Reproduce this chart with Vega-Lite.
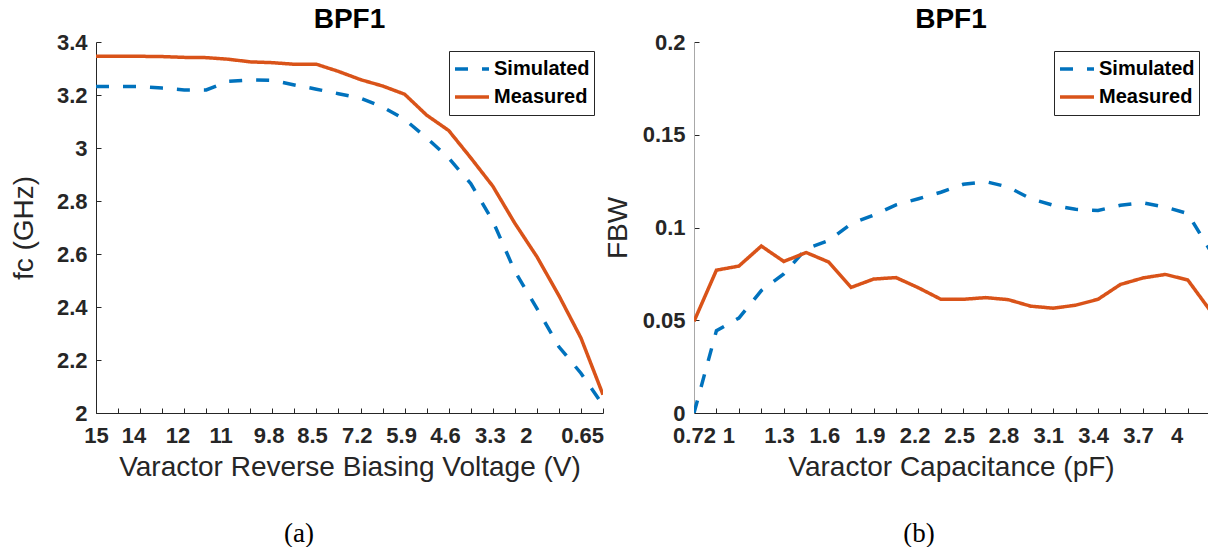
{
  "$schema": "https://vega.github.io/schema/vega-lite/v6.json",
  "background": "white",
  "padding": {"left": 10, "top": 6, "right": 0, "bottom": 0},
  "config": {
    "view": {"stroke": null},
    "font": "Liberation Sans",
    "axis": {
      "grid": false,
      "domainColor": "#262626",
      "domainWidth": 1,
      "tickColor": "#262626",
      "tickWidth": 1,
      "tickSize": -5,
      "labelColor": "#262626",
      "labelFont": "Liberation Sans",
      "labelFontSize": 22,
      "labelFontWeight": "bold",
      "labelFlush": false,
      "labelOverlap": false,
      "titleColor": "#262626",
      "titleFont": "Liberation Sans",
      "titleFontSize": 28,
      "titleFontWeight": "normal"
    },
    "legend": {
      "orient": "top-right",
      "offset": 9,
      "strokeColor": "#262626",
      "fillColor": "white",
      "padding": 4,
      "symbolType": "stroke",
      "symbolSize": 1156,
      "symbolStrokeWidth": 3.5,
      "clipHeight": 28,
      "rowPadding": 0,
      "labelFont": "Liberation Sans",
      "labelFontSize": 20,
      "labelFontWeight": "bold",
      "labelColor": "black",
      "labelOffset": 3
    },
    "title": {"font": "Liberation Sans", "fontSize": 28, "fontWeight": "bold", "color": "black", "offset": -3}
  },
  "datasets": {
    "fc": [
      {"i": 0, "series": "Simulated", "v": 3.232}, {"i": 1, "series": "Simulated", "v": 3.232}, {"i": 2, "series": "Simulated", "v": 3.232}, {"i": 3, "series": "Simulated", "v": 3.226},
      {"i": 4, "series": "Simulated", "v": 3.219}, {"i": 5, "series": "Simulated", "v": 3.219}, {"i": 6, "series": "Simulated", "v": 3.252}, {"i": 7, "series": "Simulated", "v": 3.257},
      {"i": 8, "series": "Simulated", "v": 3.255}, {"i": 9, "series": "Simulated", "v": 3.238}, {"i": 10, "series": "Simulated", "v": 3.222}, {"i": 11, "series": "Simulated", "v": 3.205},
      {"i": 12, "series": "Simulated", "v": 3.188}, {"i": 13, "series": "Simulated", "v": 3.155}, {"i": 14, "series": "Simulated", "v": 3.108}, {"i": 15, "series": "Simulated", "v": 3.038},
      {"i": 16, "series": "Simulated", "v": 2.962}, {"i": 17, "series": "Simulated", "v": 2.866}, {"i": 18, "series": "Simulated", "v": 2.725}, {"i": 19, "series": "Simulated", "v": 2.535},
      {"i": 20, "series": "Simulated", "v": 2.395}, {"i": 21, "series": "Simulated", "v": 2.25}, {"i": 22, "series": "Simulated", "v": 2.15}, {"i": 23, "series": "Simulated", "v": 2.03},
      {"i": 0, "series": "Measured", "v": 3.346}, {"i": 1, "series": "Measured", "v": 3.346}, {"i": 2, "series": "Measured", "v": 3.346}, {"i": 3, "series": "Measured", "v": 3.345},
      {"i": 4, "series": "Measured", "v": 3.342}, {"i": 5, "series": "Measured", "v": 3.341}, {"i": 6, "series": "Measured", "v": 3.335}, {"i": 7, "series": "Measured", "v": 3.325},
      {"i": 8, "series": "Measured", "v": 3.322}, {"i": 9, "series": "Measured", "v": 3.316}, {"i": 10, "series": "Measured", "v": 3.316}, {"i": 11, "series": "Measured", "v": 3.289},
      {"i": 12, "series": "Measured", "v": 3.258}, {"i": 13, "series": "Measured", "v": 3.234}, {"i": 14, "series": "Measured", "v": 3.203}, {"i": 15, "series": "Measured", "v": 3.124},
      {"i": 16, "series": "Measured", "v": 3.066}, {"i": 17, "series": "Measured", "v": 2.963}, {"i": 18, "series": "Measured", "v": 2.856}, {"i": 19, "series": "Measured", "v": 2.716},
      {"i": 20, "series": "Measured", "v": 2.59}, {"i": 21, "series": "Measured", "v": 2.443}, {"i": 22, "series": "Measured", "v": 2.283}, {"i": 23, "series": "Measured", "v": 2.069}
    ],
    "fbw": [
      {"k": 0, "series": "Simulated", "v": 0.0}, {"k": 1, "series": "Simulated", "v": 0.0444}, {"k": 2, "series": "Simulated", "v": 0.0512}, {"k": 3, "series": "Simulated", "v": 0.066},
      {"k": 4, "series": "Simulated", "v": 0.075}, {"k": 5, "series": "Simulated", "v": 0.0886}, {"k": 6, "series": "Simulated", "v": 0.093}, {"k": 7, "series": "Simulated", "v": 0.102},
      {"k": 8, "series": "Simulated", "v": 0.1067}, {"k": 9, "series": "Simulated", "v": 0.1122}, {"k": 10, "series": "Simulated", "v": 0.1155}, {"k": 11, "series": "Simulated", "v": 0.119},
      {"k": 12, "series": "Simulated", "v": 0.1233}, {"k": 13, "series": "Simulated", "v": 0.1247}, {"k": 14, "series": "Simulated", "v": 0.1218}, {"k": 15, "series": "Simulated", "v": 0.1155},
      {"k": 16, "series": "Simulated", "v": 0.112}, {"k": 17, "series": "Simulated", "v": 0.1098}, {"k": 18, "series": "Simulated", "v": 0.1092}, {"k": 19, "series": "Simulated", "v": 0.112},
      {"k": 20, "series": "Simulated", "v": 0.1133}, {"k": 21, "series": "Simulated", "v": 0.111}, {"k": 22, "series": "Simulated", "v": 0.1075}, {"k": 23, "series": "Simulated", "v": 0.0875},
      {"k": 0, "series": "Measured", "v": 0.0494}, {"k": 1, "series": "Measured", "v": 0.077}, {"k": 2, "series": "Measured", "v": 0.0792}, {"k": 3, "series": "Measured", "v": 0.09},
      {"k": 4, "series": "Measured", "v": 0.0817}, {"k": 5, "series": "Measured", "v": 0.0865}, {"k": 6, "series": "Measured", "v": 0.0814}, {"k": 7, "series": "Measured", "v": 0.0677},
      {"k": 8, "series": "Measured", "v": 0.0722}, {"k": 9, "series": "Measured", "v": 0.073}, {"k": 10, "series": "Measured", "v": 0.0675}, {"k": 11, "series": "Measured", "v": 0.0613},
      {"k": 12, "series": "Measured", "v": 0.0613}, {"k": 13, "series": "Measured", "v": 0.0622}, {"k": 14, "series": "Measured", "v": 0.0611}, {"k": 15, "series": "Measured", "v": 0.0576},
      {"k": 16, "series": "Measured", "v": 0.0565}, {"k": 17, "series": "Measured", "v": 0.0581}, {"k": 18, "series": "Measured", "v": 0.0613}, {"k": 19, "series": "Measured", "v": 0.0693},
      {"k": 20, "series": "Measured", "v": 0.0728}, {"k": 21, "series": "Measured", "v": 0.0747}, {"k": 22, "series": "Measured", "v": 0.0717}, {"k": 23, "series": "Measured", "v": 0.0552}
    ]
  },
  "resolve": {"scale": {"color": "independent", "strokeDash": "independent"}},
  "spacing": 0,
  "hconcat": [
    {
      "title": {"text": "(a)", "orient": "bottom", "anchor": "middle", "font": "Liberation Serif", "fontSize": 27, "fontWeight": "normal", "color": "black", "offset": 40, "dx": -8},
      "resolve": {"scale": {"color": "independent", "strokeDash": "independent"}},
      "vconcat": [
        {
          "width": 507,
          "height": 371,
          "title": {"text": "BPF1"},
          "data": {"name": "fc"},
          "mark": {"type": "line", "strokeWidth": 3.5, "clip": true},
          "encoding": {
            "x": {
              "field": "i", "type": "quantitative",
              "scale": {"domain": [0, 23], "nice": false, "zero": false},
              "axis": {
                "title": "Varactor Reverse Biasing Voltage (V)",
                "titlePadding": 7,
                "labelPadding": 17,
                "values": [0,1,2,3,4,5,6,7,8,9,10,11,12,13,14,15,16,17,18,19,20,21,22,23,1.7,3.7,5.65,7.83,9.8,11.83,13.84,15.83,17.87,19.5,22.05],
                "labelExpr": "['15','14','12','11','9.8','8.5','7.2','5.9','4.6','3.3','2','0.65'][indexof([0,1.7,3.7,5.65,7.83,9.8,11.83,13.84,15.83,17.87,19.5,22.05], datum.value)] || ''",
                "tickOpacity": {"condition": {"test": "datum.value % 1 != 0", "value": 0}, "value": 1}
              }
            },
            "y": {
              "field": "v", "type": "quantitative",
              "scale": {"domain": [2, 3.4], "nice": false, "zero": false},
              "axis": {"title": "fc (GHz)", "values": [2, 2.2, 2.4, 2.6, 2.8, 3, 3.2, 3.4], "format": "~g", "labelPadding": 14, "titlePadding": 18}
            },
            "color": {
              "field": "series", "type": "nominal",
              "scale": {"domain": ["Simulated", "Measured"], "range": ["#0072BD", "#D95319"]},
              "legend": {"title": null, "orient": "top-right"}
            },
            "strokeDash": {
              "field": "series", "type": "nominal",
              "scale": {"domain": ["Simulated", "Measured"], "range": [[13, 14], [1, 0]]},
              "legend": {"title": null, "orient": "top-right"}
            }
          }
        }
      ]
    },
    {
      "title": {"text": "(b)", "orient": "bottom", "anchor": "middle", "font": "Liberation Serif", "fontSize": 27, "fontWeight": "normal", "color": "black", "offset": 40, "dx": 13},
      "resolve": {"scale": {"color": "independent", "strokeDash": "independent"}},
      "vconcat": [
        {
          "width": 514,
          "height": 371,
          "title": {"text": "BPF1"},
          "data": {"name": "fbw"},
          "mark": {"type": "line", "strokeWidth": 3.5, "clip": true},
          "encoding": {
            "x": {
              "field": "k", "type": "quantitative",
              "scale": {"domain": [0, 22.9], "nice": false, "zero": false},
              "axis": {
                "title": "Varactor Capacitance (pF)",
                "titlePadding": 7,
                "labelPadding": 17,
                "values": [0,1,2,3,4,5,6,7,8,9,10,11,12,13,14,15,16,17,18,19,20,21,22,1.53,3.79,5.81,7.83,9.83,11.81,13.79,15.78,17.78,19.78,21.5],
                "labelExpr": "['0.72','1','1.3','1.6','1.9','2.2','2.5','2.8','3.1','3.4','3.7','4'][indexof([0,1.53,3.79,5.81,7.83,9.83,11.81,13.79,15.78,17.78,19.78,21.5], datum.value)] || ''",
                "tickOpacity": {"condition": {"test": "datum.value % 1 != 0", "value": 0}, "value": 1}
              }
            },
            "y": {
              "field": "v", "type": "quantitative",
              "scale": {"domain": [0, 0.2], "nice": false, "zero": false},
              "axis": {"title": "FBW", "values": [0, 0.05, 0.1, 0.15, 0.2], "format": "~g", "labelPadding": 14, "titlePadding": 10, "domainColor": "#a8a8a8"}
            },
            "color": {
              "field": "series", "type": "nominal",
              "scale": {"domain": ["Simulated", "Measured"], "range": ["#0072BD", "#D95319"]},
              "legend": {"title": null, "orient": "top-right"}
            },
            "strokeDash": {
              "field": "series", "type": "nominal",
              "scale": {"domain": ["Simulated", "Measured"], "range": [[13, 14], [1, 0]]},
              "legend": {"title": null, "orient": "top-right"}
            }
          }
        }
      ]
    }
  ]
}
